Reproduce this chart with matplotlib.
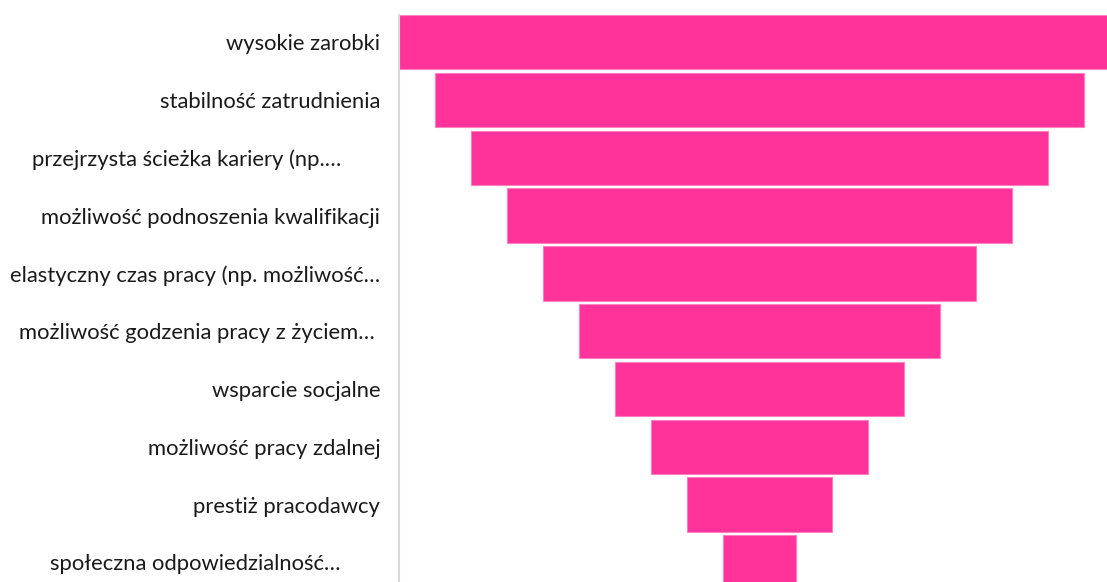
import numpy as np
from matplotlib import pyplot as plt

# trailing spaces keep the truncated labels short of the axis, as in the source
categories = ["wysokie zarobki",
              "stabilność zatrudnienia",
              "przejrzysta ścieżka kariery (np.…" + " " * 7,
              "możliwość podnoszenia kwalifikacji",
              "elastyczny czas pracy (np. możliwość…",
              "możliwość godzenia pracy z życiem…" + " ",
              "wsparcie socjalne",
              "możliwość pracy zdalnej",
              "prestiż pracodawcy",
              "społeczna odpowiedzialność…" + " " * 7]
values = [10, 9, 8, 7, 6, 5, 4, 3, 2, 1]

plt.rcParams['font.family'] = ['Lato', 'DejaVu Sans']

W, H = 1107, 582
fig = plt.figure(figsize=(W / 100, H / 100), dpi=100)

# axes runs past the right and bottom edge of the figure, like the source
left, right = 399, 1120
top, slot = 15, 57.8
ymin, ymax = -0.47, 9.5
bottom = top + (ymax - ymin) * slot
ax = fig.add_axes([left / W, 1 - bottom / H, (right - left) / W, (bottom - top) / H])

vmax = max(values)
center = vmax / 2
y = np.arange(len(categories))
lefts = [center - v / 2 for v in values]
ax.barh(y, values, left=lefts, height=0.94, color='#ff3399',
        edgecolor='#ff80bf', linewidth=0.8)

ax.set_xlim(0, vmax)
ax.set_ylim(ymax, ymin)
ax.set_yticks(y)
ax.set_yticklabels(categories, fontsize=15.8, color='#1a1a1a')
ax.tick_params(axis='y', length=0, pad=13.5)
ax.set_xticks([])
for s in ['top', 'right', 'bottom']:
    ax.spines[s].set_visible(False)
ax.spines['left'].set_color('#d9d9d9')
ax.spines['left'].set_linewidth(1.5)

fig.savefig('out.png', dpi=100)
